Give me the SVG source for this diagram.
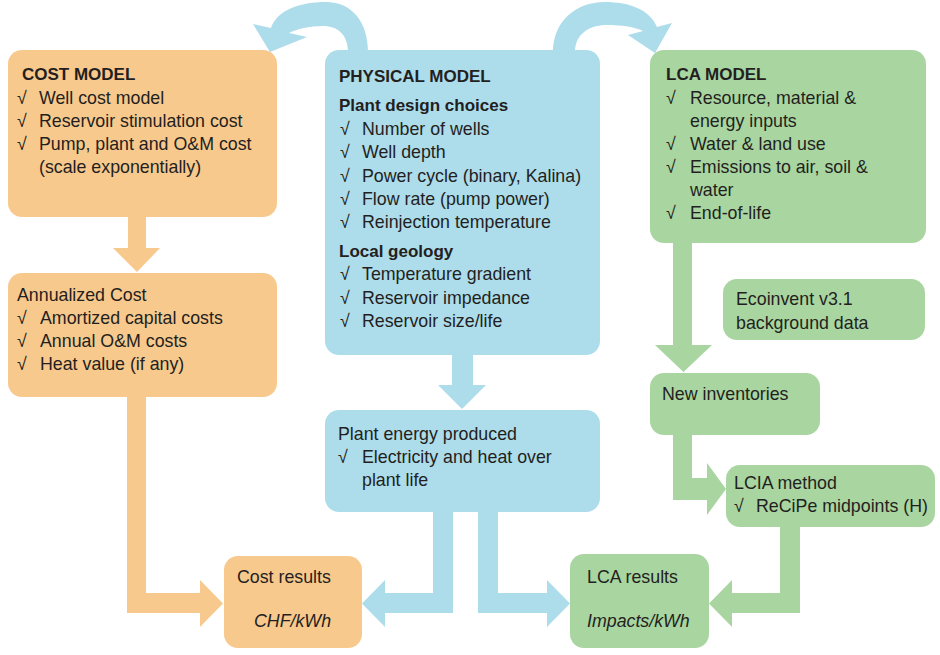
<svg xmlns="http://www.w3.org/2000/svg" width="940" height="655" viewBox="0 0 940 655">
<style>
text{font-family:"Liberation Sans",Arial,sans-serif;font-size:17.8px;fill:#231F20}
.b{font-weight:bold;font-size:17px}
.i{font-style:italic}
.or{fill:#F8C98D}
.bl{fill:#ADDCEB}
.gr{fill:#A9D5A0}
</style>
<rect width="940" height="655" fill="#fff"/>
<g id="connectors">
<path class="bl" d="M348 52 C348 35 338 26 323 26 C309 26 297 29 289 33 L307 37 L270 52 L253 24 L271 28 C277 10 300 2 326 2 C352 2 368 22 368 52 Z"/>
<path class="bl" d="M553 52 C553 22 575 2 605 2 C630 2 650 10 657 27 L672 23 L655 53 L628 35 L643 31 C635 27 622 25 607 25 C588 25 575 35 575 52 Z"/>
<path class="or" d="M128 215 H146 V248 H160 L137 272 L113 248 H128 Z"/>
<path class="or" d="M127 395 H146 V593 H200 V580 L223 603.5 L200 627 V613 H127 Z"/>
<path class="bl" d="M452 353 H473 V385 H486 L462 409 L438 385 H452 Z"/>
<path class="bl" d="M433 510 H453 V613 H385 V627 L362 603.5 L385 580 V593 H433 Z"/>
<path class="bl" d="M478 510 H498 V593 H547 V580 L570 603.5 L547 627 V613 H478 Z"/>
<path class="gr" d="M673 241 H692 V345 H712 L683.5 372 L655 345 H673 Z"/>
<path class="gr" d="M673 433 H692 V478 H707 V463 L726 489 L707 515 V500 H673 Z"/>
<path class="gr" d="M780 525 H800 V613 H732 V627 L709 603.5 L732 580 V593 H780 Z"/>
</g>
<g id="cost-model">
<rect class="or" x="8" y="50" width="269" height="167" rx="14"/>
<text class="b" x="22" y="80">COST MODEL</text>
<text x="17" y="104">√</text><text x="39" y="104">Well cost model</text>
<text x="17" y="127">√</text><text x="39" y="127">Reservoir stimulation cost</text>
<text x="17" y="150">√</text><text x="39" y="150">Pump, plant and O&amp;M cost</text>
<text x="39" y="173">(scale exponentially)</text>
</g>
<g id="annualized-cost">
<rect class="or" x="8" y="273" width="269" height="124" rx="14"/>
<text x="17" y="301">Annualized Cost</text>
<text x="17" y="324">√</text><text x="40" y="324">Amortized capital costs</text>
<text x="17" y="347">√</text><text x="40" y="347">Annual O&amp;M costs</text>
<text x="17" y="370">√</text><text x="40" y="370">Heat value (if any)</text>
</g>
<g id="physical-model">
<rect class="bl" x="325" y="50" width="275" height="305" rx="14"/>
<text class="b" x="339" y="82">PHYSICAL MODEL</text>
<text class="b" x="339" y="111">Plant design choices</text>
<text x="340" y="135">√</text><text x="362" y="135">Number of wells</text>
<text x="340" y="158">√</text><text x="362" y="158">Well depth</text>
<text x="340" y="182">√</text><text x="362" y="182">Power cycle (binary, Kalina)</text>
<text x="340" y="205">√</text><text x="362" y="205">Flow rate (pump power)</text>
<text x="340" y="228">√</text><text x="362" y="228">Reinjection temperature</text>
<text class="b" x="339" y="257">Local geology</text>
<text x="340" y="280">√</text><text x="362" y="280">Temperature gradient</text>
<text x="340" y="304">√</text><text x="362" y="304">Reservoir impedance</text>
<text x="340" y="327">√</text><text x="362" y="327">Reservoir size/life</text>
</g>
<g id="plant-energy">
<rect class="bl" x="325" y="410" width="275" height="102" rx="14"/>
<text x="338" y="440">Plant energy produced</text>
<text x="338" y="463">√</text><text x="362" y="463">Electricity and heat over</text>
<text x="362" y="486">plant life</text>
</g>
<g id="lca-model">
<rect class="gr" x="650" y="50" width="276" height="193" rx="14"/>
<text class="b" x="666" y="80">LCA MODEL</text>
<text x="666" y="104">√</text><text x="690" y="104">Resource, material &amp;</text>
<text x="690" y="127">energy inputs</text>
<text x="666" y="150">√</text><text x="690" y="150">Water &amp; land use</text>
<text x="666" y="173">√</text><text x="690" y="173">Emissions to air, soil &amp;</text>
<text x="690" y="196">water</text>
<text x="666" y="219">√</text><text x="690" y="219">End-of-life</text>
</g>
<g id="ecoinvent">
<rect class="gr" x="723" y="279" width="202" height="61" rx="14"/>
<text x="736" y="305">Ecoinvent v3.1</text>
<text x="736" y="329">background data</text>
</g>
<g id="new-inventories">
<rect class="gr" x="650" y="373" width="170" height="62" rx="14"/>
<text x="662" y="400">New inventories</text>
</g>
<g id="lcia-method">
<rect class="gr" x="726" y="465" width="209" height="62" rx="14"/>
<text x="734" y="489">LCIA method</text>
<text x="734" y="512">√</text><text x="756" y="512">ReCiPe midpoints (H)</text>
</g>
<g id="cost-results">
<rect class="or" x="224" y="556" width="138" height="92" rx="14"/>
<text x="237" y="583">Cost results</text>
<text class="i" x="254" y="627">CHF/kWh</text>
</g>
<g id="lca-results">
<rect class="gr" x="570" y="554" width="139" height="94" rx="14"/>
<text x="587" y="583">LCA results</text>
<text class="i" x="587" y="627">Impacts/kWh</text>
</g>
</svg>
